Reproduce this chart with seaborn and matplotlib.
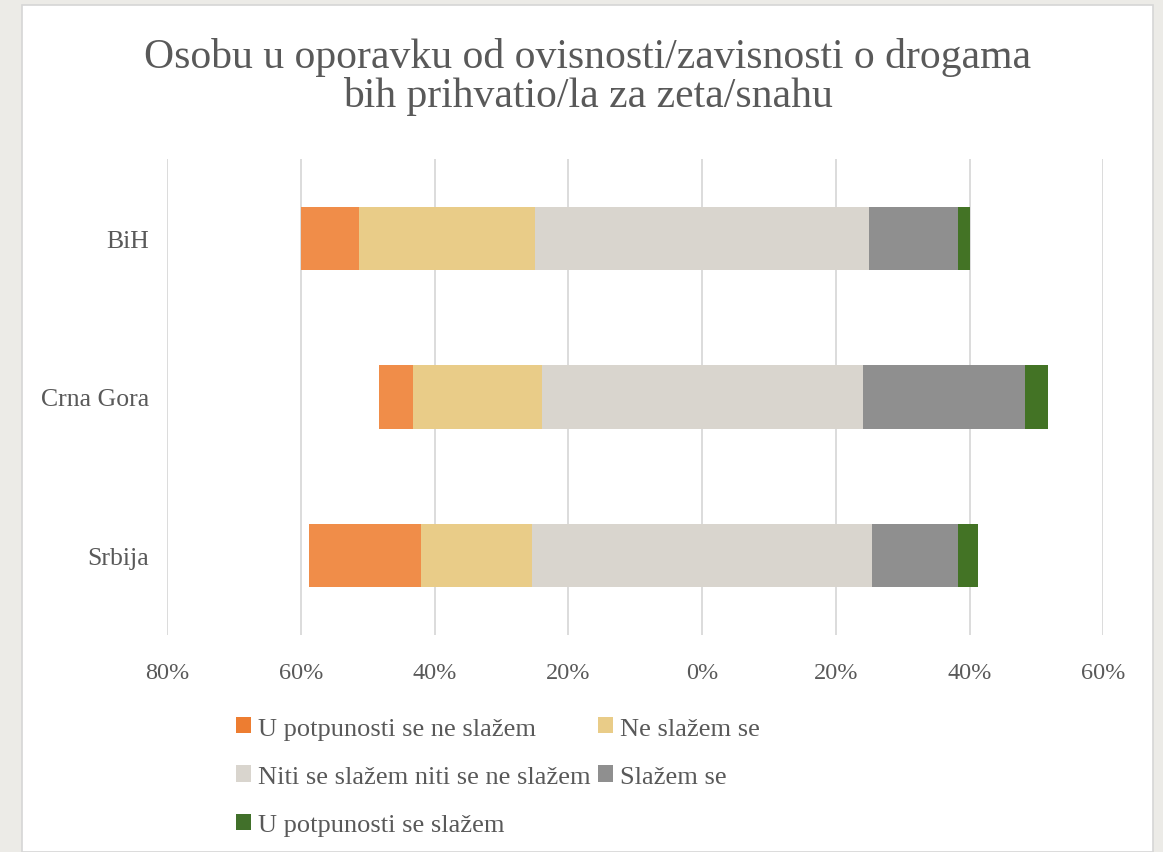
import numpy as np
import pandas as pd
import matplotlib.pyplot as plt
import seaborn as sns
from matplotlib.patches import Rectangle, Patch

# Podaci (procenti po državi)
drzave = ["BiH", "Crna Gora", "Srbija"]
kategorije = [
    "U potpunosti se ne slažem",
    "Ne slažem se",
    "Niti se slažem niti se ne slažem",
    "Slažem se",
    "U potpunosti se slažem",
]
potpuno_ne = [8.7, 5.1, 16.7]
ne_slazem = [26.3, 19.2, 16.6]
neutralno = [49.9, 48.0, 50.8]
slazem = [13.3, 24.3, 12.9]
potpuno_da = [1.8, 3.4, 3.0]

boje = ["#F08D49", "#E9CC88", "#D9D5CE", "#8F8F8F", "#437325"]
boje_legende = ["#ED7D31", "#E9CC88", "#D9D5CE", "#8F8F8F", "#41702A"]
siva_tekst = "#595959"

W, H = 1163, 853

df = pd.DataFrame(
    {
        "drzava": drzave,
        "potpuno_ne": potpuno_ne,
        "ne_slazem": ne_slazem,
        "neutralno": neutralno,
        "slazem": slazem,
        "potpuno_da": potpuno_da,
    }
)

# Kumulativne vrijednosti (neutralno podijeljeno na pola oko nule)
pola = df["neutralno"] / 2
df["lijevo_neutralno"] = -pola
df["lijevo_ne"] = -(pola + df["ne_slazem"])
df["lijevo_potpuno"] = -(pola + df["ne_slazem"] + df["potpuno_ne"])
df["desno_neutralno"] = pola
df["desno_slazem"] = pola + df["slazem"]
df["desno_potpuno"] = pola + df["slazem"] + df["potpuno_da"]

plt.rcParams["font.family"] = ["Liberation Serif", "DejaVu Serif"]

fig = plt.figure(figsize=(W / 100, H / 100), dpi=100, facecolor="#ECEBE7")

# Bijeli panel iza grafika
fig.patches.append(
    Rectangle(
        (22 / W, 0), (1153 - 22) / W, 1 - 6 / H,
        transform=fig.transFigure, facecolor="white",
        edgecolor="#D6D6D6", linewidth=1.2, zorder=-10,
    )
)

ax = fig.add_axes([167 / W, 1 - 635.7 / H, (1103.3 - 167) / W, (635.7 - 160) / H])
ax.set_facecolor("none")

# Crtanje slojeva: od najdužeg ka najkraćem
slojevi = [
    ("lijevo_potpuno", boje[0]),
    ("lijevo_ne", boje[1]),
    ("lijevo_neutralno", boje[2]),
    ("desno_potpuno", boje[4]),
    ("desno_slazem", boje[3]),
    ("desno_neutralno", boje[2]),
]
for kolona, boja in slojevi:
    sns.barplot(
        data=df, x=kolona, y="drzava", orient="h", color=boja,
        saturation=1, width=0.4, errorbar=None, linewidth=0, ax=ax,
        zorder=3,
    )

ax.set_xlim(-80, 60)
ticks = np.arange(-80, 61, 20)
ax.set_xticks(ticks)
ax.set_xticklabels([f"{abs(t)}%" for t in ticks])
ax.grid(axis="x", color="#D9D9D9", linewidth=1.3, zorder=0)
ax.set_axisbelow(True)
for s in ax.spines.values():
    s.set_visible(False)
ax.tick_params(axis="both", length=0, colors=siva_tekst)
ax.tick_params(axis="x", pad=20, labelsize=17.5)
ax.tick_params(axis="y", pad=13, labelsize=18.5)
ax.set_xlabel("")
ax.set_ylabel("")

# Naslov
cx = 587.5 / W
fig.text(cx, 1 - 68.3 / H, "Osobu u oporavku od ovisnosti/zavisnosti o drogama",
         ha="center", va="baseline", fontsize=30, color=siva_tekst)
fig.text(cx, 1 - 107 / H, "bih prihvatio/la za zeta/snahu",
         ha="center", va="baseline", fontsize=30, color=siva_tekst)

# Legenda (redoslijed po redovima)
rucke = [Patch(facecolor=c, edgecolor="none") for c in boje_legende]
red = [0, 2, 4, 1, 3]
fig.legend(
    [rucke[i] for i in red], [kategorije[i] for i in red],
    ncol=2, loc="upper left", bbox_to_anchor=(236 / W, 1 - 718 / H),
    frameon=False, fontsize=19, labelcolor=siva_tekst,
    handlelength=0.58, handleheight=0.58, handletextpad=0.25,
    columnspacing=0.28, labelspacing=0.98, borderpad=0, borderaxespad=0,
)

fig.savefig("out.png", dpi=100, facecolor=fig.get_facecolor())
